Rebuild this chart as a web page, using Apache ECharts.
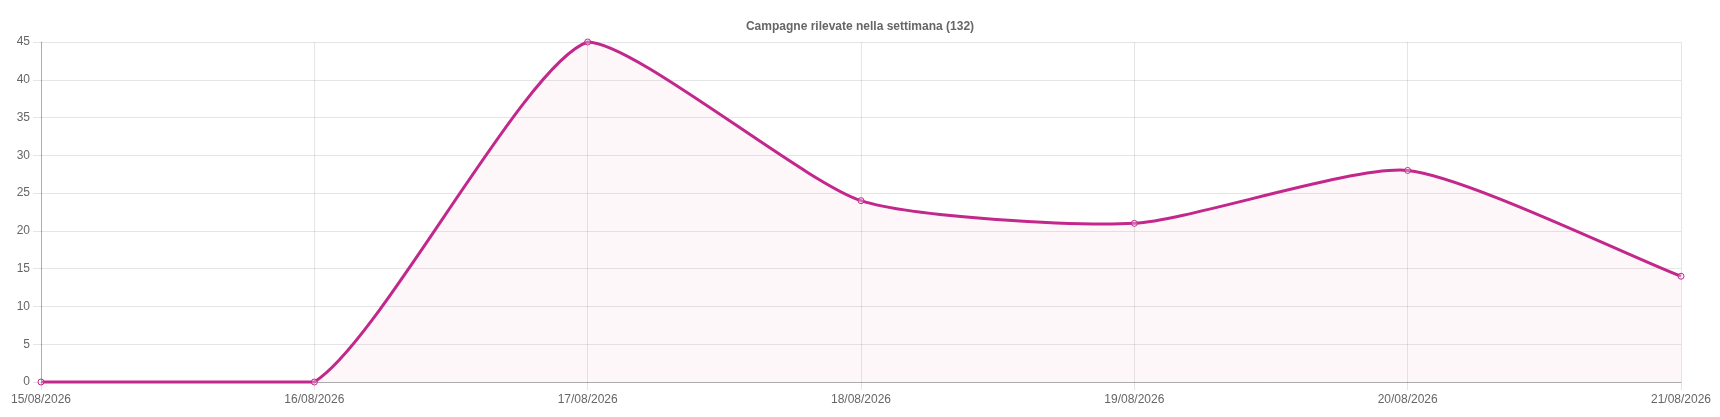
<!DOCTYPE html>
<html><head><meta charset="utf-8">
<script src="https://cdn.jsdelivr.net/npm/echarts@6/dist/echarts.min.js"></script>
<style>html,body{margin:0;padding:0;background:#fff}#c{width:1720px;height:417px}</style>
</head><body><div id="c"></div>
<script>
const categories = ['15/08/2026','16/08/2026','17/08/2026','18/08/2026','19/08/2026','20/08/2026','21/08/2026'];
const values = [0, 0, 45, 24, 21, 28, 14];
const titleText = 'Campagne rilevate nella settimana (132)';
const chart = echarts.init(document.getElementById('c'));
const gridColor = 'rgba(0,0,0,0.1)';
const lineColor = '#c2288b';
const tension = 0.2;

function renderCurve(params, api) {
  if (params.dataIndex !== 0) return { type: 'group', children: [] };
  const cs = params.coordSys;
  const pts = values.map((v, i) => api.coord([i, v]));
  const n = pts.length;
  const clampX = x => Math.max(cs.x, Math.min(cs.x + cs.width, x));
  const clampY = y => Math.max(cs.y, Math.min(cs.y + cs.height, y));
  const cps = pts.map((cur, i) => {
    const prev = i === 0 ? cur : pts[i - 1];
    const next = i === n - 1 ? cur : pts[i + 1];
    const d01 = Math.hypot(cur[0] - prev[0], cur[1] - prev[1]);
    const d12 = Math.hypot(next[0] - cur[0], next[1] - cur[1]);
    let s01 = d01 / (d01 + d12); if (isNaN(s01)) s01 = 0;
    let s12 = d12 / (d01 + d12); if (isNaN(s12)) s12 = 0;
    const fa = tension * s01, fb = tension * s12;
    return {
      p: [clampX(cur[0] - fa * (next[0] - prev[0])), clampY(cur[1] - fa * (next[1] - prev[1]))],
      n: [clampX(cur[0] + fb * (next[0] - prev[0])), clampY(cur[1] + fb * (next[1] - prev[1]))]
    };
  });
  let d = 'M' + pts[0][0] + ' ' + pts[0][1];
  for (let i = 1; i < n; i++) {
    d += ' C' + cps[i - 1].n[0] + ' ' + cps[i - 1].n[1] + ' ' + cps[i].p[0] + ' ' + cps[i].p[1] + ' ' + pts[i][0] + ' ' + pts[i][1];
  }
  const bottom = api.coord([0, 0])[1];
  const area = d + ' L' + pts[n - 1][0] + ' ' + bottom + ' L' + pts[0][0] + ' ' + bottom + ' Z';
  return { type: 'group', children: [
    { type: 'path', shape: { pathData: area }, style: { fill: 'rgba(194,40,139,0.04)', stroke: null } },
    { type: 'path', shape: { pathData: d }, style: { fill: null, stroke: lineColor, lineWidth: 3 } }
  ] };
}

chart.setOption({
  animation: false,
  title: { text: titleText, left: 'center', top: 16,
    textStyle: { fontFamily: 'Liberation Sans, Arial, sans-serif', fontSize: 12, fontWeight: 'bold', color: '#666' } },
  grid: { left: 41, right: 39, top: 42, bottom: 35, containLabel: false },
  xAxis: { type: 'category', data: categories, boundaryGap: false,
    axisLine: { lineStyle: { color: 'rgba(0,0,0,0.25)' } },
    axisTick: { show: true, length: 8, lineStyle: { color: gridColor } },
    splitLine: { show: true, lineStyle: { color: gridColor } },
    axisLabel: { color: '#666', fontSize: 12, fontFamily: 'Liberation Sans, Arial, sans-serif', margin: 12, interval: 0 } },
  yAxis: { type: 'value', min: 0, max: 45, interval: 5,
    axisLine: { show: true, lineStyle: { color: 'rgba(0,0,0,0.25)' } },
    axisTick: { show: true, length: 8, lineStyle: { color: gridColor } },
    splitLine: { show: true, lineStyle: { color: gridColor } },
    axisLabel: { color: '#666', fontSize: 12, fontFamily: 'Liberation Sans, Arial, sans-serif', margin: 11 } },
  series: [
    { type: 'custom', data: values.map((v, i) => [i, v]), renderItem: renderCurve, clip: false, z: 2, silent: true },
    { type: 'line', data: values, symbol: 'circle', symbolSize: 6, showAllSymbol: true, z: 3,
      itemStyle: { color: 'rgba(255,255,255,0.3)', borderColor: lineColor, borderWidth: 1 },
      lineStyle: { width: 0, opacity: 0 } }
  ]
});
</script></body></html>
